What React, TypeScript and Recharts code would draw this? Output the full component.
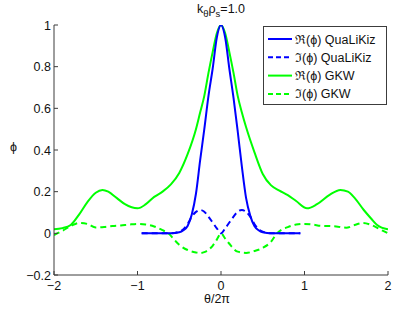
import React from 'react';
import { LineChart, Line, XAxis, YAxis, CartesianGrid, Legend } from 'recharts';

const FONT = '"Liberation Sans", Arial, Helvetica, sans-serif';
const AXIS = '#3c3c3c';
const GRID = '#b8b8b8';
const BLUE = '#0000ff';
const GREEN = '#00ff00';

const xTicks = [-2, -1, 0, 1, 2];
const yTicks = [-0.2, 0, 0.2, 0.4, 0.6, 0.8, 1];

const seriesNames = ['ℜ(ϕ) QuaLiKiz', 'ℑ(ϕ) QuaLiKiz', 'ℜ(ϕ) GKW', 'ℑ(ϕ) GKW'];

// QuaLiKiz (blue)
const qlkX = [-0.95, -0.8, -0.6, -0.5, -0.45, -0.4, -0.35, -0.3, -0.25, -0.2, -0.15, -0.1, -0.05, 0, 0.05, 0.1, 0.15, 0.2, 0.25, 0.3, 0.35, 0.4, 0.45, 0.5, 0.6, 0.8, 0.95];
const qlkRe = [0, 0, 0, 0.005, 0.015, 0.035, 0.09, 0.19, 0.35, 0.5, 0.66, 0.79, 0.94, 1, 0.94, 0.79, 0.65, 0.49, 0.32, 0.17, 0.085, 0.035, 0.015, 0.005, 0, 0, 0];
const qlkIm = [0, 0, 0, 0.008, 0.02, 0.045, 0.08, 0.103, 0.112, 0.104, 0.08, 0.052, 0.024, 0, 0.024, 0.052, 0.08, 0.104, 0.112, 0.103, 0.08, 0.045, 0.02, 0.008, 0, 0, 0];

// GKW real (green solid)
const gkwReX = [-2, -1.9, -1.8, -1.7, -1.6, -1.5, -1.42, -1.35, -1.25, -1.15, -1.0, -0.9, -0.8, -0.7, -0.6, -0.5, -0.4, -0.3, -0.25, -0.2, -0.15, -0.1, -0.05, 0, 0.05, 0.1, 0.15, 0.2, 0.25, 0.3, 0.4, 0.5, 0.6, 0.7, 0.8, 0.9, 1.03, 1.15, 1.3, 1.43, 1.52, 1.6, 1.71, 1.8, 1.87, 2];
const gkwRe = [0.02, 0.025, 0.04, 0.09, 0.15, 0.195, 0.208, 0.2, 0.17, 0.14, 0.12, 0.14, 0.175, 0.2, 0.235, 0.29, 0.38, 0.5, 0.58, 0.66, 0.77, 0.87, 0.96, 1, 0.96, 0.87, 0.77, 0.66, 0.58, 0.51, 0.39, 0.285, 0.23, 0.205, 0.183, 0.155, 0.12, 0.14, 0.185, 0.208, 0.2, 0.17, 0.112, 0.07, 0.04, 0.019];

// GKW imaginary (green dashed)
const gkwImX = [-2, -1.9, -1.8, -1.7, -1.6, -1.5, -1.4, -1.3, -1.2, -1.1, -1.0, -0.9, -0.8, -0.7, -0.63, -0.55, -0.5, -0.4, -0.3, -0.25, -0.2, -0.1, -0.05, 0, 0.05, 0.1, 0.2, 0.3, 0.4, 0.5, 0.6, 0.67, 0.8, 0.9, 1.0, 1.1, 1.2, 1.3, 1.4, 1.5, 1.6, 1.7, 1.8, 1.9, 2];
const gkwIm = [-0.008, 0.012, 0.035, 0.05, 0.045, 0.028, 0.03, 0.035, 0.038, 0.042, 0.045, 0.042, 0.033, 0.015, 0, -0.035, -0.055, -0.08, -0.092, -0.095, -0.09, -0.06, -0.03, 0, -0.025, -0.05, -0.088, -0.094, -0.085, -0.07, -0.04, 0, 0.03, 0.042, 0.045, 0.042, 0.036, 0.035, 0.032, 0.027, 0.04, 0.05, 0.04, 0.02, 0];

const zip = (xs: number[], ys: number[]) => xs.map((x, i) => ({ x, y: ys[i] }));

const dQlkRe = zip(qlkX, qlkRe);
const dQlkIm = zip(qlkX, qlkIm);
const dGkwRe = zip(gkwReX, gkwRe);
const dGkwIm = zip(gkwImX, gkwIm);

const fmt = (v: number) => (v < 0 ? '\u2212' + String(Math.abs(v)) : String(v));

const BottomTick = (props: any) => {
  const { x, y, payload } = props;
  return (
    <g>
      <line x1={x} x2={x} y1={y} y2={y - 4} stroke={AXIS} strokeWidth={1} />
      <text x={x} y={y + 15} textAnchor="middle" fontSize={12.5} fontFamily={FONT} fill="#111">
        {fmt(payload.value)}
      </text>
    </g>
  );
};

const LeftTick = (props: any) => {
  const { x, y, payload } = props;
  return (
    <g>
      <line x1={x} x2={x + 4} y1={y} y2={y} stroke={AXIS} strokeWidth={1} />
      <text x={x - 3} y={y + 4.5} textAnchor="end" fontSize={12.5} fontFamily={FONT} fill="#111">
        {fmt(payload.value)}
      </text>
    </g>
  );
};

const TopTick = (props: any) => {
  const { x, y } = props;
  return <line x1={x} x2={x} y1={y} y2={y + 4} stroke={AXIS} strokeWidth={1} />;
};

const RightTick = (props: any) => {
  const { x, y } = props;
  return <line x1={x} x2={x - 4} y1={y} y2={y} stroke={AXIS} strokeWidth={1} />;
};

const legendStyles = [
  { color: BLUE, dash: undefined },
  { color: BLUE, dash: '5 3' },
  { color: GREEN, dash: undefined },
  { color: GREEN, dash: '5 3' },
];

const renderLegend = () => (
  <svg width={124} height={79} style={{ display: 'block' }}>
    <rect x={0.5} y={0.5} width={123} height={78} fill="#fff" stroke={AXIS} strokeWidth={1} />
    {seriesNames.map((name, i) => {
      const cy = 13 + i * 18.3;
      return (
        <g key={name}>
          <line x1={5} x2={29} y1={cy} y2={cy} stroke={legendStyles[i].color} strokeWidth={2} strokeDasharray={legendStyles[i].dash} />
          <text x={32} y={cy + 4.5} fontSize={12.5} fontFamily={FONT} fill="#111">
            {name}
          </text>
        </g>
      );
    })}
  </svg>
);

export default function App() {
  return (
    <div style={{ position: 'absolute', left: 0, top: 0, background: '#fff' }}>
      <LineChart width={415} height={312} margin={{ top: 25, right: 27, bottom: 7, left: 14 }}>
        <CartesianGrid stroke={GRID} strokeDasharray="1 2" horizontalValues={yTicks} verticalValues={xTicks} />
        <XAxis
          xAxisId="b"
          dataKey="x"
          type="number"
          domain={[-2, 2]}
          ticks={xTicks}
          interval={0}
          allowDataOverflow
          height={30}
          tickSize={0}
          tickMargin={0}
          tickLine={false}
          axisLine={{ stroke: AXIS, strokeWidth: 1 }}
          tick={<BottomTick />}
          label={{
            content: () => (
              <text x={217} y={303} textAnchor="middle" fontSize={12.5} fontFamily={FONT} fill="#111">
                θ/2π
              </text>
            ),
          }}
        />
        <XAxis
          xAxisId="t"
          orientation="top"
          dataKey="x"
          type="number"
          domain={[-2, 2]}
          ticks={xTicks}
          interval={0}
          allowDataOverflow
          height={0}
          tickSize={0}
          tickMargin={0}
          tickLine={false}
          axisLine={{ stroke: AXIS, strokeWidth: 1 }}
          tick={<TopTick />}
        />
        <YAxis
          yAxisId="l"
          type="number"
          domain={[-0.2, 1]}
          ticks={yTicks}
          interval={0}
          allowDataOverflow
          width={40}
          tickSize={0}
          tickMargin={0}
          tickLine={false}
          axisLine={{ stroke: AXIS, strokeWidth: 1 }}
          tick={<LeftTick />}
          label={{
            content: () => (
              <text x={13.5} y={151} textAnchor="middle" fontSize={12.5} fontFamily={FONT} fill="#111">
                ϕ
              </text>
            ),
          }}
        />
        <YAxis
          yAxisId="r"
          orientation="right"
          type="number"
          domain={[-0.2, 1]}
          ticks={yTicks}
          interval={0}
          allowDataOverflow
          width={0}
          tickSize={0}
          tickMargin={0}
          tickLine={false}
          axisLine={{ stroke: AXIS, strokeWidth: 1 }}
          tick={<RightTick />}
        />
        <Line xAxisId="t" yAxisId="r" data={dGkwRe} dataKey="y" stroke="none" dot={false} legendType="none" isAnimationActive={false} />
        <Line xAxisId="b" yAxisId="l" name={seriesNames[3]} data={dGkwIm} dataKey="y" type="monotone" stroke={GREEN} strokeWidth={2} strokeDasharray="6 4" dot={false} isAnimationActive={false} />
        <Line xAxisId="b" yAxisId="l" name={seriesNames[2]} data={dGkwRe} dataKey="y" type="monotone" stroke={GREEN} strokeWidth={2} dot={false} isAnimationActive={false} />
        <Line xAxisId="b" yAxisId="l" name={seriesNames[1]} data={dQlkIm} dataKey="y" type="monotone" stroke={BLUE} strokeWidth={2} strokeDasharray="6 4" dot={false} isAnimationActive={false} />
        <Line xAxisId="b" yAxisId="l" name={seriesNames[0]} data={dQlkRe} dataKey="y" type="monotone" stroke={BLUE} strokeWidth={2} dot={false} isAnimationActive={false} />
        <Legend
          layout="vertical"
          align="center"
          verticalAlign="middle"
          content={renderLegend}
          wrapperStyle={{ position: 'absolute', left: 263, top: 26, width: 124, height: 79 }}
        />
        <text x={221} y={13} textAnchor="middle" fontSize={12.5} fontFamily={FONT} fill="#111">
          k<tspan fontSize={9.5} dy={4}>θ</tspan>
          <tspan dy={-4}>ρ</tspan>
          <tspan fontSize={9.5} dy={4}>s</tspan>
          <tspan dy={-4}>=1.0</tspan>
        </text>
      </LineChart>
    </div>
  );
}
